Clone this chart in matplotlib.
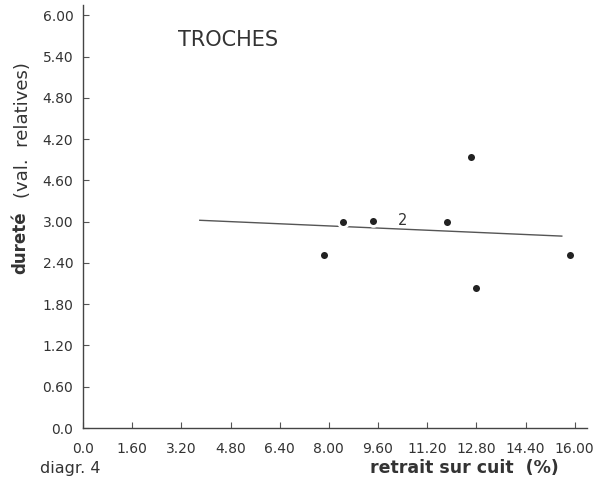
import matplotlib
matplotlib.use('Agg')
import matplotlib.pyplot as plt

# data
retrait = [7.84, 8.46, 9.45, 11.86, 12.62, 12.79, 15.84]
durete = [2.51, 3.00, 3.01, 3.00, 3.94, 2.03, 2.51]

# regression line (endpoints) and its label
line_x = [3.8, 15.58]
line_y = [3.02, 2.79]
line_label = "2"
label_pos = (10.4, 3.02)

xticks = [0.0, 1.6, 3.2, 4.8, 6.4, 8.0, 9.6, 11.2, 12.8, 14.4, 16.0]
xlabels = ["0.0", "1.60", "3.20", "4.80", "6.40", "8.00", "9.60", "11.20", "12.80", "14.40", "16.00"]
yticks = [0.0, 0.6, 1.2, 1.8, 2.4, 3.0, 3.6, 4.2, 4.8, 5.4, 6.0]
ylabels = ["0.0", "0.60", "1.20", "1.80", "2.40", "3.00", "4.60", "4.20", "4.80", "5.40", "6.00"]

ink = '#333333'
plt.rcParams['font.family'] = 'DejaVu Sans'

fig = plt.figure(figsize=(6, 4.84), dpi=100)
ax = fig.add_axes([83 / 600, 56 / 484, 504 / 600, 423 / 484])

ax.plot(line_x, line_y, color='#555555', lw=1.0, zorder=1)
ax.scatter(retrait, durete, s=50, color='#222222', edgecolors='white',
           linewidths=2.0, zorder=3)
ax.text(label_pos[0], label_pos[1], line_label, fontsize=10.5, color=ink,
        ha='center', va='center')

ax.set_xlim(0, 16.4)
ax.set_ylim(0, 6.15)
ax.set_xticks(xticks)
ax.set_xticklabels(xlabels)
ax.set_yticks(yticks)
ax.set_yticklabels(ylabels)
ax.tick_params(direction='in', length=4, width=0.8, colors='#555555',
               labelcolor=ink, labelsize=10)
ax.tick_params(axis='x', pad=10)
ax.tick_params(axis='y', pad=7)

for side in ['top', 'right']:
    ax.spines[side].set_visible(False)
for side in ['left', 'bottom']:
    ax.spines[side].set_color('#444444')
    ax.spines[side].set_linewidth(1.0)

fig.text(228 / 600, 1 - 40 / 484, "TROCHES", fontsize=15, color=ink,
         ha='center', va='center')
fig.text(40 / 600, 1 - 468 / 484, "diagr. 4", fontsize=11.5, color=ink,
         ha='left', va='center')
fig.text(464 / 600, 1 - 468 / 484, "retrait sur cuit  (%)", fontsize=12.5,
         color=ink, weight='bold', ha='center', va='center')
fig.text(20 / 600, 1 - 243 / 484, "dureté", fontsize=12, color=ink,
         weight='bold', rotation=90, ha='center', va='center')
fig.text(23 / 600, 1 - 130 / 484, "(val.  relatives)", fontsize=13,
         color=ink, rotation=90, ha='center', va='center')

fig.savefig('out.png', dpi=100)
